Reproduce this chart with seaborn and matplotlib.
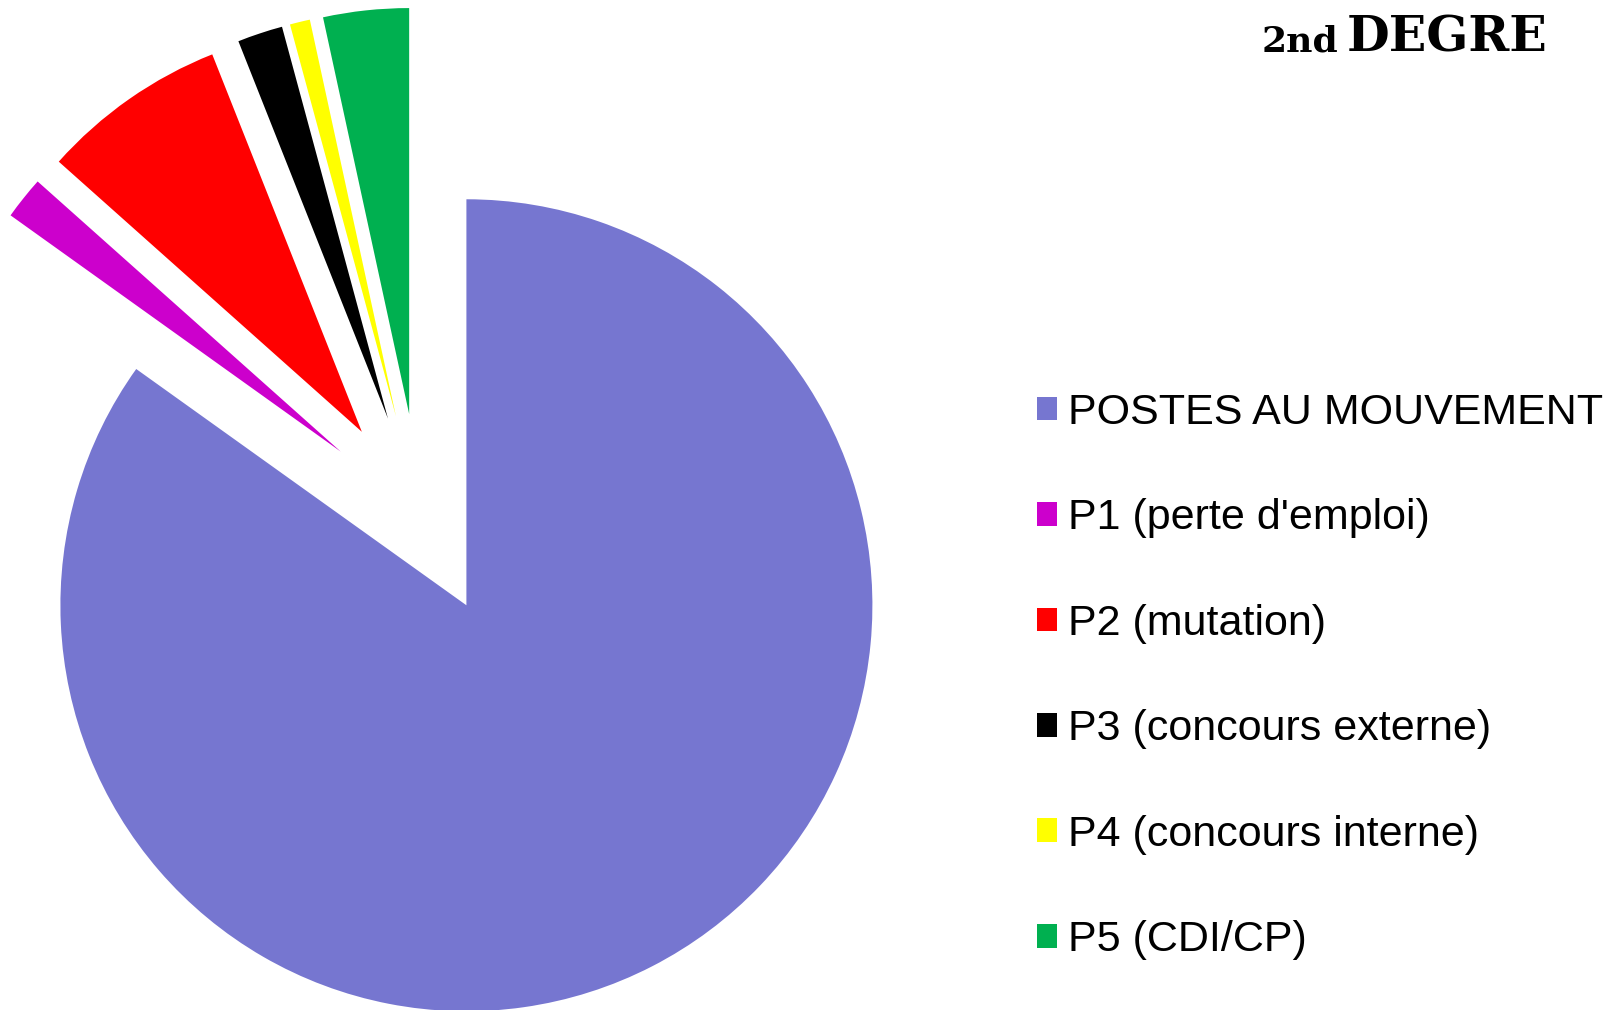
import matplotlib
matplotlib.use("Agg")
import matplotlib.pyplot as plt
import seaborn as sns

labels = ["POSTES AU MOUVEMENT", "P1 (perte d'emploi)", "P2 (mutation)",
          "P3 (concours externe)", "P4 (concours interne)", "P5 (CDI/CP)"]
values = [848, 17, 74, 18, 8, 34]
colors = ["#7676D0", "#CC00CC", "#FF0000", "#000000", "#FFFF00", "#00B050"]

sns.set_style("white")
plt.rcParams['font.family'] = ['Liberation Sans', 'DejaVu Sans']
plt.rcParams['text.color'] = 'black'

fig = plt.figure(figsize=(16.23, 10.10), dpi=100)
ax = fig.add_axes([0, 0, 1, 1])

R = 406
# explode in pie is absolute (data units), a quarter of the radius
explode = [0.25 * R] * len(values)
wedges, _ = ax.pie(values, colors=colors, explode=explode, startangle=90,
                   counterclock=False, center=(420, 495), radius=R,
                   frame=True, wedgeprops=dict(linewidth=0))
ax.set_xlim(0, 1623)
ax.set_ylim(0, 1010)
ax.set_aspect("equal")
ax.axis("off")

leg = fig.legend(wedges, labels, loc="upper left", bbox_to_anchor=(0.639, 0.611),
                 frameon=False, fontsize=31, handlelength=0.47, handleheight=0.47,
                 handletextpad=0.25, labelspacing=1.52, borderpad=0, borderaxespad=0)
for t in leg.get_texts():
    t.set_color("black")

fig.text(1338 / 1623, 1 - 52 / 1010, "2nd", family="DejaVu Serif", weight="bold",
         fontsize=26, va="baseline", ha="right", color="black")
fig.text(1547 / 1623, 1 - 52 / 1010, "DEGRE", family="DejaVu Serif", weight="bold",
         fontsize=35.5, va="baseline", ha="right", color="black")

fig.savefig("out.png", dpi=100)
